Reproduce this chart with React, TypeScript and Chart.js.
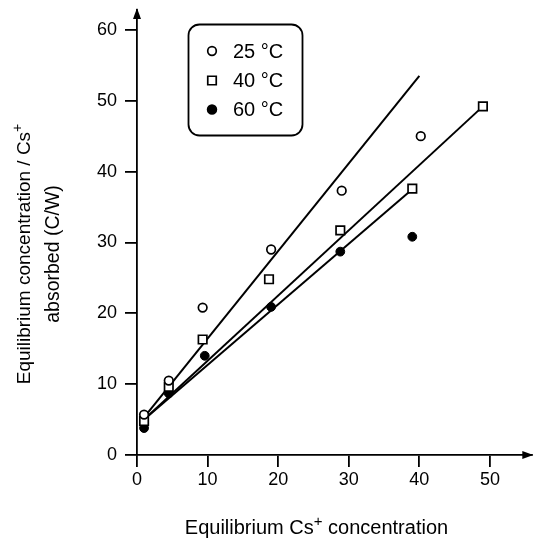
import React, { useEffect, useRef } from 'react';
import { Chart, registerables } from 'chart.js';

Chart.register(...registerables);

const FONT = '"Liberation Sans", Arial, Helvetica, sans-serif';

// ---- data ----
const seriesLabels = ['25 °C', '40 °C', '60 °C'];

const x25 = [1, 4.5, 9.3, 19, 29, 40.2];
const y25 = [5.7, 10.5, 20.8, 29, 37.3, 45];

const x40 = [1, 4.5, 9.3, 18.7, 28.8, 39, 49];
const y40 = [4.8, 9.6, 16.3, 24.8, 31.7, 37.6, 49.2];

const x60 = [1, 4.5, 9.6, 19, 28.8, 39];
const y60 = [3.8, 8.7, 14, 20.9, 28.7, 30.8];

// fitted straight lines (end points)
const fit25X = [1, 40];
const fit25Y = [5.3, 53.5];
const fit40X = [1, 49];
const fit40Y = [5.0, 49.2];
const fit60X = [1, 39];
const fit60Y = [5.0, 37.5];

const xTickValues = [0, 10, 20, 30, 40, 50];
const yTickValues = [0, 10, 20, 30, 40, 50, 60];

const xTitleParts = ['Equilibrium Cs', '+', ' concentration'];
const yTitleLine1Parts = ['Equilibrium concentration / Cs', '+', ''];
const yTitleLine2 = 'absorbed (C/W)';

const toPts = (xs: number[], ys: number[]) => xs.map((x, i) => ({ x, y: ys[i] }));

function drawSupText(
  ctx: CanvasRenderingContext2D,
  parts: string[],
  cx: number,
  baseline: number,
  size: number
) {
  const mainFont = `${size}px ${FONT}`;
  const supSize = Math.round(size * 0.75);
  const supFont = `${supSize}px ${FONT}`;
  ctx.font = mainFont;
  const w0 = ctx.measureText(parts[0]).width;
  const w2 = ctx.measureText(parts[2]).width;
  ctx.font = supFont;
  const w1 = ctx.measureText(parts[1]).width;
  const total = w0 + w1 + w2;
  let x = cx - total / 2;
  ctx.textAlign = 'left';
  ctx.textBaseline = 'alphabetic';
  ctx.font = mainFont;
  ctx.fillText(parts[0], x, baseline);
  x += w0;
  ctx.font = supFont;
  ctx.fillText(parts[1], x, baseline - size * 0.4);
  x += w1;
  ctx.font = mainFont;
  ctx.fillText(parts[2], x, baseline);
}

const decorPlugin = {
  id: 'decor',
  afterDraw(chart: any) {
    const ctx: CanvasRenderingContext2D = chart.ctx;
    const { left, right, top, bottom } = chart.chartArea;
    const xs = chart.scales.x;
    ctx.save();
    ctx.fillStyle = '#000';
    ctx.strokeStyle = '#000';

    // axis arrows
    ctx.beginPath();
    ctx.moveTo(left, top - 2);
    ctx.lineTo(left - 4, top + 9);
    ctx.lineTo(left + 4, top + 9);
    ctx.closePath();
    ctx.fill();

    ctx.beginPath();
    ctx.moveTo(right + 1, bottom);
    ctx.lineTo(right - 10, bottom - 4);
    ctx.lineTo(right - 10, bottom + 4);
    ctx.closePath();
    ctx.fill();

    // x axis title
    const cx = (xs.getPixelForValue(0) + xs.getPixelForValue(50)) / 2 + 3;
    drawSupText(ctx, xTitleParts, cx, 534, 20);

    // y axis title (rotated)
    const cy = 254;
    ctx.save();
    ctx.translate(30, cy);
    ctx.rotate(-Math.PI / 2);
    drawSupText(ctx, yTitleLine1Parts, 0, 0, 19);
    ctx.restore();
    ctx.save();
    ctx.translate(59, cy);
    ctx.rotate(-Math.PI / 2);
    ctx.font = `19.5px ${FONT}`;
    ctx.textAlign = 'center';
    ctx.textBaseline = 'alphabetic';
    ctx.fillText(yTitleLine2, 0, 0);
    ctx.restore();

    // legend box
    ctx.lineWidth = 1.8;
    ctx.beginPath();
    (ctx as any).roundRect(188.5, 24.5, 114, 111, 11);
    ctx.stroke();

    const rows = [51, 80.5, 109.5];
    const markerX = 212;
    const textX = 233;
    ctx.font = `20px ${FONT}`;
    ctx.textAlign = 'left';
    ctx.textBaseline = 'middle';
    for (let i = 0; i < 3; i++) {
      const ds = chart.data.datasets[i];
      const y = rows[i];
      ctx.lineWidth = 1.7;
      ctx.fillStyle = ds.pointBackgroundColor;
      ctx.strokeStyle = '#000';
      ctx.beginPath();
      if (ds.pointStyle === 'rect') {
        const s = Math.SQRT1_2 * ds.pointRadius;
        ctx.rect(markerX - s, y - s, 2 * s, 2 * s);
      } else {
        ctx.arc(markerX, y, ds.pointRadius, 0, Math.PI * 2);
      }
      ctx.fill();
      ctx.stroke();
      ctx.fillStyle = '#000';
      ctx.fillText(ds.label, textX, y + 1);
    }
    ctx.restore();
  },
};

export default function App() {
  const ref = useRef<HTMLCanvasElement | null>(null);

  useEffect(() => {
    if (!ref.current) return;
    Chart.defaults.font.family = FONT;
    const lineStyle = {
      type: 'line' as const,
      borderColor: '#000',
      borderWidth: 2,
      pointRadius: 0,
      showLine: true,
      fill: false,
      order: 2,
    };
    const chart = new Chart(ref.current, {
      type: 'scatter',
      data: {
        datasets: [
          {
            label: seriesLabels[0],
            data: toPts(x25, y25),
            pointStyle: 'circle',
            pointRadius: 4.3,
            pointBorderWidth: 1.7,
            pointBorderColor: '#000',
            pointBackgroundColor: '#fff',
            order: 1,
          },
          {
            label: seriesLabels[1],
            data: toPts(x40, y40),
            pointStyle: 'rect',
            pointRadius: 6,
            pointBorderWidth: 1.7,
            pointBorderColor: '#000',
            pointBackgroundColor: '#fff',
            order: 1,
          },
          {
            label: seriesLabels[2],
            data: toPts(x60, y60),
            pointStyle: 'circle',
            pointRadius: 4.4,
            pointBorderWidth: 1,
            pointBorderColor: '#000',
            pointBackgroundColor: '#000',
            order: 1,
          },
          { ...lineStyle, label: 'fit25', data: toPts(fit25X, fit25Y) },
          { ...lineStyle, label: 'fit40', data: toPts(fit40X, fit40Y) },
          { ...lineStyle, label: 'fit60', data: toPts(fit60X, fit60Y) },
        ] as any,
      },
      options: {
        responsive: false,
        animation: false,
        layout: { padding: { top: 10, right: 5, left: 0, bottom: 0 } },
        plugins: {
          legend: { display: false },
          tooltip: { enabled: false },
          title: { display: false },
        },
        scales: {
          x: {
            type: 'linear',
            min: 0,
            max: 56,
            afterBuildTicks: (s: any) => {
              s.ticks = xTickValues.map((v) => ({ value: v }));
            },
            afterFit: (s: any) => {
              s.height = 90;
              s.paddingLeft = 0;
              s.paddingRight = 0;
            },
            grid: {
              drawOnChartArea: false,
              drawTicks: true,
              tickLength: 12,
              color: '#000',
              lineWidth: 1.8,
            },
            border: { display: true, color: '#000', width: 1.8 },
            ticks: {
              color: '#000',
              font: { size: 18, family: FONT },
              padding: 2,
              maxRotation: 0,
            },
          },
          y: {
            type: 'linear',
            min: 0,
            max: 62.8,
            afterBuildTicks: (s: any) => {
              s.ticks = yTickValues.map((v) => ({ value: v }));
            },
            afterFit: (s: any) => {
              s.width = 137;
              s.paddingTop = 0;
              s.paddingBottom = 0;
            },
            grid: {
              drawOnChartArea: false,
              drawTicks: true,
              tickLength: 12,
              color: '#000',
              lineWidth: 1.8,
            },
            border: { display: true, color: '#000', width: 1.8 },
            ticks: {
              color: '#000',
              font: { size: 18, family: FONT },
              padding: 8,
            },
          },
        },
      },
      plugins: [decorPlugin],
    });
    return () => chart.destroy();
  }, []);

  return (
    <div style={{ position: 'absolute', left: 0, top: 0, width: 540, height: 545, background: '#fff' }}>
      <canvas ref={ref} width={540} height={545} style={{ width: 540, height: 545 }} />
    </div>
  );
}
